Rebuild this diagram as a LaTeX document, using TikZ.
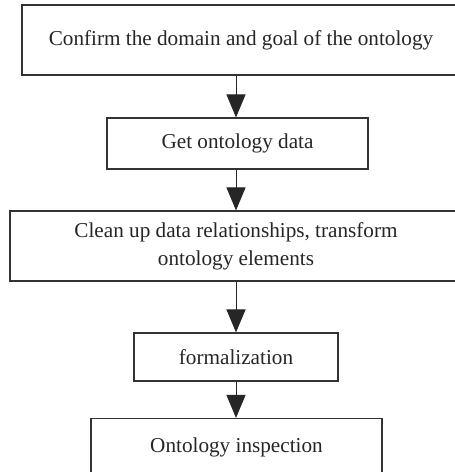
\documentclass[tikz,border=0pt]{standalone}
\usepackage{fontspec}
\setmainfont{Liberation Serif}
\usetikzlibrary{arrows.meta}

\begin{document}
\begin{tikzpicture}[x=1pt,y=-1pt,
  stepbox/.style={draw=black!80, line width=1.1pt, fill=white, inner sep=0pt,
    align=center, font=\fontsize{21.2}{28}\selectfont, text=black!85},
  flow/.style={draw=black!85, line width=1pt,
    -{Triangle[length=23pt,width=19pt]}}]
  \useasboundingbox (0,0) rectangle (455,472);
  \clip (0,0) rectangle (455,472);

  % process steps, top to bottom
  \node[stepbox, minimum width=438pt, minimum height=70pt] (b1) at (241,40)
    {Confirm the domain and goal of the ontology};
  \node[stepbox, minimum width=261pt, minimum height=51pt] (b2) at (237.5,143.5)
    {Get ontology data};
  \node[stepbox, minimum width=452pt, minimum height=70pt] (b3) at (236,246)
    {Clean up data relationships, transform\\ ontology elements};
  \node[stepbox, minimum width=204pt, minimum height=48pt] (b4) at (236,357)
    {formalization};
  \node[stepbox, minimum width=291pt, minimum height=58pt] (b5) at (236.5,447.5)
    {Ontology inspection};

  % connectors along the axis x = 236
  \coordinate (axis) at (236,0);
  \draw[flow] (b1.south -| axis) -- (b2.north -| axis);
  \draw[flow] (b2.south -| axis) -- (b3.north -| axis);
  \draw[flow] (b3.south -| axis) -- (b4.north -| axis);
  \draw[flow] (b4.south -| axis) -- (b5.north -| axis);
\end{tikzpicture}
\end{document}
